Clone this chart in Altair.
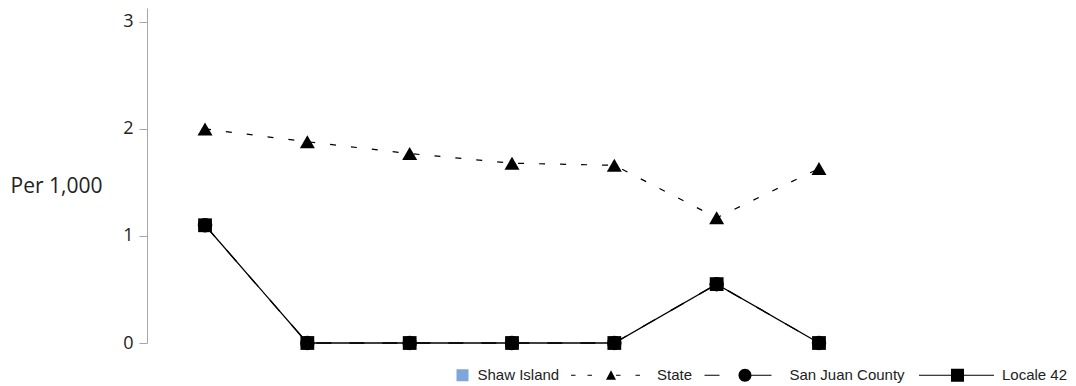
import altair as alt
import pandas as pd

# ---- data ----
periods = [1, 2, 3, 4, 5, 6, 7]
series_names = ["Shaw Island", "State", "San Juan County", "Locale 42"]
shaw_island = [None, None, None, None, None, None, None]
state = [2.00, 1.88, 1.77, 1.68, 1.66, 1.17, 1.63]
san_juan_county = [1.10, 0.0, 0.0, 0.0, 0.0, 0.55, 0.0]
locale_42 = [1.10, 0.0, 0.0, 0.0, 0.0, 0.55, 0.0]
y_ticks = [0, 1, 2, 3]

rows = []
for name, vals in zip(series_names, [shaw_island, state, san_juan_county, locale_42]):
    for p, v in zip(periods, vals):
        rows.append({"series": name, "period": p, "value": v})
df = pd.DataFrame(rows)

# ---- styling ----
series_colors = ["#7ea6da", "black", "black", "black"]
# legend symbols (line + marker), in pixels relative to the symbol origin
legend_paths = [
    "M-13,-6H-1V6H-13Z",
    "M-78,-0.6H-73.5V0.6H-78Z M-61.5,-0.6H-57V0.6H-61.5Z M-33,-0.6H-28.5V0.6H-33Z "
    "M-13.5,-0.6H-9V0.6H-13.5Z M-38,-5L-33,4.5H-43Z",
    "M-77,-0.6H-62V0.6H-77Z M-30,-0.6H-10V0.6H-30Z "
    "M-43,0A6.5,6.5,0,1,1,-30,0A6.5,6.5,0,1,1,-43,0Z",
    "M-75,-0.6H0V0.6H-75Z M-43,-6.5H-30V6.5H-43Z",
]

x_enc = alt.X("period:Q", scale=alt.Scale(domain=[0.433, 7.567], nice=False, zero=False), axis=None)
y_enc = alt.Y(
    "value:Q",
    scale=alt.Scale(domain=[0, 3.13], nice=False, zero=True),
    axis=alt.Axis(
        values=y_ticks,
        title="Per 1,000",
        grid=False,
        domainColor="#a6a6a6",
        tickColor="#a6a6a6",
        tickSize=8,
        labelFont="Open Sans",
        labelFontSize=18,
        labelColor="#222222",
        labelPadding=6,
        titleFont="Open Sans",
        titleFontSize=21,
        titleFontWeight="normal",
        titleColor="#222222",
        titleAngle=0,
        titleAlign="right",
        titleBaseline="middle",
        titleX=-45,
        titleY=178,
    ),
)

base = alt.Chart(df).encode(x=x_enc, y=y_enc)

state_line = base.transform_filter(alt.datum.series == "State").mark_line(
    color="black", strokeWidth=1.2, strokeDash=[6, 15]
)
sjc_line = base.transform_filter(alt.datum.series == "San Juan County").mark_line(
    color="black", strokeWidth=1.3, strokeDash=[15, 18]
)
locale_line = base.transform_filter(alt.datum.series == "Locale 42").mark_line(
    color="black", strokeWidth=1.3
)
state_pts = base.transform_filter(alt.datum.series == "State").mark_point(
    shape="triangle-up", filled=True, size=225, color="black", opacity=1
)
sjc_pts = base.transform_filter(alt.datum.series == "San Juan County").mark_point(
    shape="circle", filled=True, size=210, color="black", opacity=1
)
locale_pts = base.transform_filter(alt.datum.series == "Locale 42").mark_point(
    shape="square", filled=True, size=190, color="black", opacity=1
)

legend = alt.Legend(
    title=None,
    orient="none",
    legendX=236,
    legendY=359.5,
    direction="horizontal",
    symbolSize=4,
    symbolStrokeWidth=0,
    symbolOffset=79,
    labelOffset=0.5,
    labelFont="Liberation Sans",
    labelFontSize=15,
    labelColor="#222222",
    columnPadding=2.5,
    padding=0,
)

legend_df = pd.DataFrame({"series": series_names})
legend_layer = (
    alt.Chart(legend_df)
    .mark_point(filled=True, opacity=1, strokeWidth=0)
    .encode(
        color=alt.Color(
            "series:N",
            scale=alt.Scale(domain=series_names, range=series_colors),
            legend=legend,
        ),
        shape=alt.Shape(
            "series:N",
            scale=alt.Scale(domain=series_names, range=legend_paths),
            legend=legend,
        ),
    )
    .transform_filter("false")
)

chart = (
    alt.layer(state_line, sjc_line, locale_line, state_pts, sjc_pts, locale_pts, legend_layer)
    .properties(
        width=730,
        height=335,
        autosize="none",
        padding={"left": 139, "top": 0, "right": 191, "bottom": 43},
    )
    .configure_view(stroke=None)
)

chart.save("out.html", embed_options={"renderer": "svg", "actions": False})
